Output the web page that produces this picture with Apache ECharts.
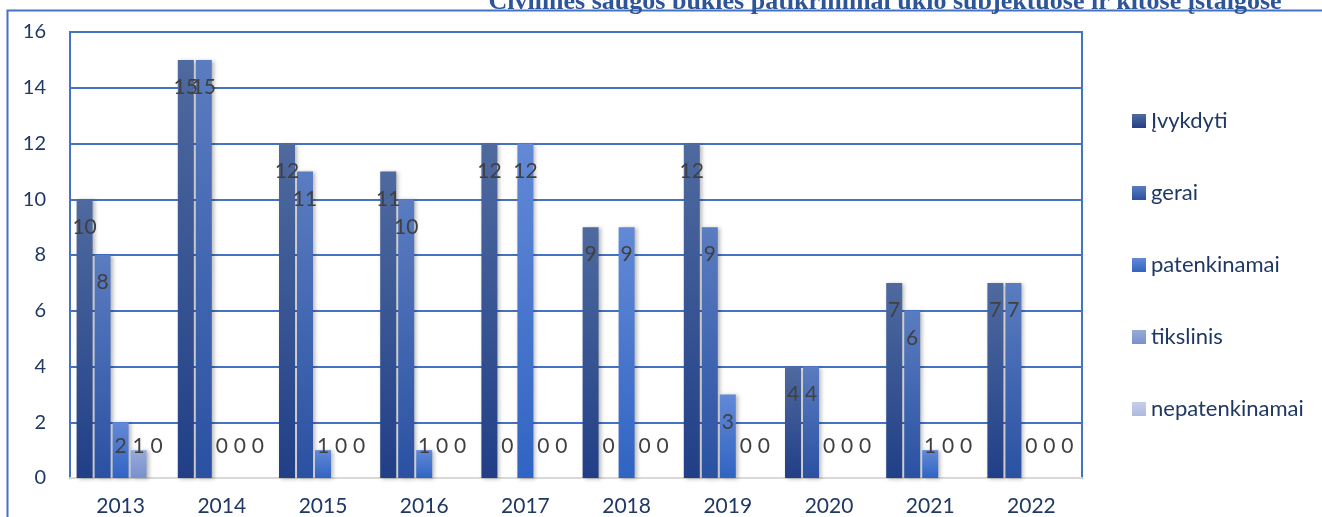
<!DOCTYPE html>
<html>
<head>
<meta charset="utf-8">
<script src="https://cdn.jsdelivr.net/npm/echarts@6/dist/echarts.min.js"></script>
<style>
  html, body { margin: 0; padding: 0; background: #fff; }
  #chart { width: 1322px; height: 517px; }
</style>
</head>
<body>
<div id="chart"></div>
<script>
// metai
const years = ["2013", "2014", "2015", "2016", "2017", "2018", "2019", "2020", "2021", "2022"];
const seriesNames = ["Įvykdyti", "gerai", "patenkinamai", "tikslinis", "nepatenkinamai"];

// patikrinimų skaičius
const ivykdyti       = [10, 15, 12, 11, 12, 9, 12, 4, 7, 7];
const gerai          = [8, 15, 11, 10, 0, 0, 9, 4, 6, 7];
const patenkinamai   = [2, 0, 1, 1, 12, 9, 3, 0, 1, 0];
const tikslinis      = [1, 0, 0, 0, 0, 0, 0, 0, 0, 0];
const nepatenkinamai = [0, 0, 0, 0, 0, 0, 0, 0, 0, 0];

const yTicks = { min: 0, max: 16, interval: 2 };

const allValues = [ivykdyti, gerai, patenkinamai, tikslinis, nepatenkinamai];
// spalvos: virsus / apacia
const colors = [
  ["#4f6a9f", "#213f87"],
  ["#5a7cc0", "#2a51a2"],
  ["#6389d6", "#3064c3"],
  ["#97aad9", "#7990cd"],
  ["#c6cfea", "#aeb9df"]
];

const chart = echarts.init(document.getElementById("chart"));

const font = "Lato, 'Open Sans', sans-serif";

function grad(c) {
  return new echarts.graphic.LinearGradient(0, 0, 0, 1, [
    { offset: 0, color: c[0] },
    { offset: 1, color: c[1] }
  ]);
}

const series = seriesNames.map((name, i) => ({
  name: name,
  type: "bar",
  barWidth: 16,
  barGap: "12.5%",
  itemStyle: {
    color: grad(colors[i]),
    shadowColor: "rgba(0,0,0,0.28)",
    shadowBlur: 4,
    shadowOffsetX: 2,
    shadowOffsetY: 1
  },
  label: {
    show: true,
    position: "insideTop",
    distance: 17,
    fontSize: 21,
    fontFamily: font,
    color: "#404040"
  },
  // mazos reiksmes - etikete prie pagrindo (kaip Excel)
  data: allValues[i].map(v =>
    v <= 2 ? { value: v, label: { position: "insideBottom", distance: 21 } } : v
  )
}));

chart.setOption({
  animation: false,
  graphic: [
    {
      type: "rect",
      shape: { x: 7.5, y: 10.5, width: 1400, height: 600 },
      style: { fill: null, stroke: "#4472c4", lineWidth: 2 },
      silent: true
    },
    {
      type: "text",
      style: {
        text: "Civilinės saugos būklės patikrinimai ūkio subjektuose ir kitose įstaigose",
        x: 885,
        y: 15,
        align: "center",
        verticalAlign: "bottom",
        font: "bold 26px 'Liberation Serif', 'DejaVu Serif', serif",
        fill: "#2e5597"
      },
      silent: true
    }
  ],
  legend: {
    orient: "vertical",
    left: 1127,
    top: 105,
    itemWidth: 14,
    itemHeight: 14,
    itemGap: 50,
    itemTextGap: 6,
    icon: "rect",
    data: seriesNames,
    textStyle: {
      fontSize: 22,
      lineHeight: 22,
      fontFamily: font,
      color: "#1f3864"
    }
  },
  grid: {
    left: 70,
    right: 240,
    top: 32,
    bottom: 39,
    show: true,
    borderColor: "#4472c4",
    borderWidth: 2
  },
  xAxis: {
    type: "category",
    data: years,
    axisTick: { show: false },
    axisLine: { show: true, lineStyle: { color: "#d9d9d9", width: 2 } },
    axisLabel: {
      fontSize: 21,
      fontFamily: font,
      color: "#1f3864",
      margin: 18
    }
  },
  yAxis: {
    type: "value",
    min: yTicks.min,
    max: yTicks.max,
    interval: yTicks.interval,
    axisLine: { show: true, lineStyle: { color: "#4472c4", width: 2 } },
    axisTick: { show: false },
    axisLabel: {
      fontSize: 20,
      fontFamily: font,
      color: "#1f3864",
      margin: 24
    },
    splitLine: { show: true, lineStyle: { color: "#4472c4", width: 2 } }
  },
  series: series
});
</script>
</body>
</html>
